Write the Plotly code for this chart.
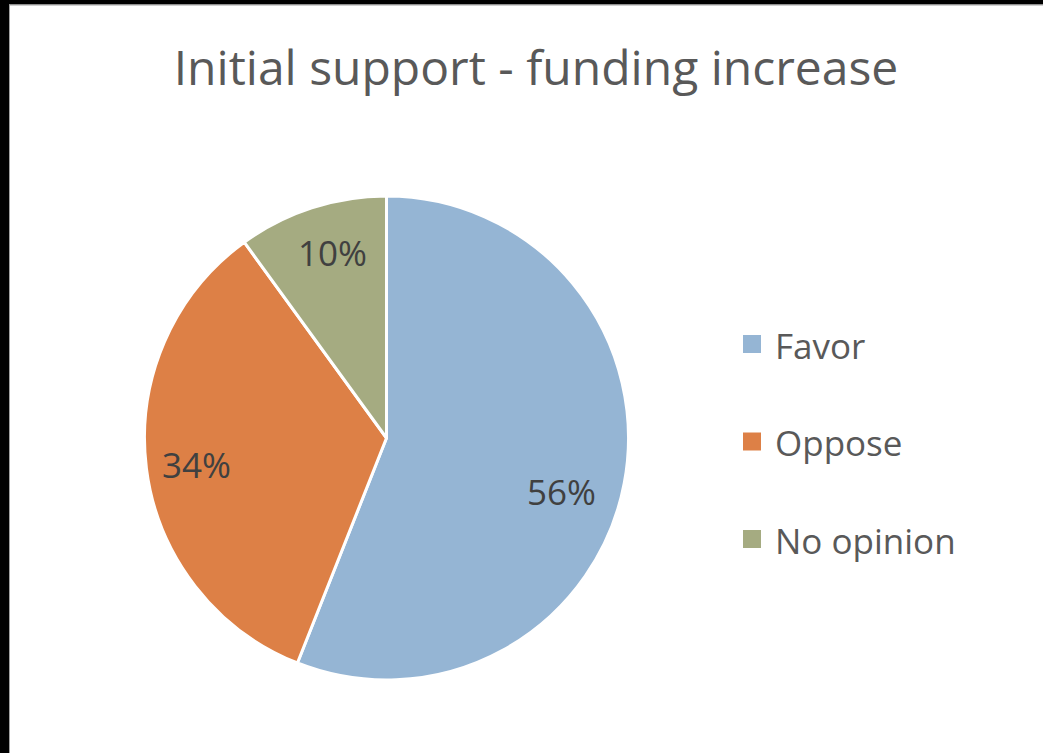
import math
import plotly.graph_objects as go

# Survey result
categories = ["Favor", "Oppose", "No opinion"]
shares = [56, 34, 10]
colors = ["#95B5D4", "#DD8046", "#A5AB81"]
title_text = "Initial support - funding increase"

W, H = 1043, 753
cx, cy, r = 386.5, 438.0, 242.0  # pie centre / radius in pixels (top-left origin)

fig = go.Figure()
fig.add_trace(go.Pie(
    labels=categories,
    values=shares,
    sort=False,
    direction="clockwise",
    rotation=0,
    marker=dict(colors=colors, line=dict(color="#FFFFFF", width=3)),
    textinfo="none",
    hoverinfo="label+percent",
    showlegend=False,
    domain=dict(x=[(cx - r) / W, (cx + r) / W],
                y=[(H - cy - r) / H, (H - cy + r) / H]),
))

# Percentage labels placed along each slice's bisector
total = sum(shares)
cum = 0.0
label_offsets = [(-10, 18), (-3, 3), (4, -6)]
for val, (dx, dy) in zip(shares, label_offsets):
    mid = (cum + val / 2) / total * 2 * math.pi
    cum += val
    px = cx + 0.78 * r * math.sin(mid) + dx
    py = cy - 0.78 * r * math.cos(mid) + dy
    fig.add_annotation(
        x=px / W, y=1 - py / H, xref="paper", yref="paper",
        text=f"{val / total * 100:.0f}%", showarrow=False,
        font=dict(family="Open Sans, sans-serif", size=35, color="#404040"),
        xanchor="center", yanchor="middle",
    )

# Legend drawn as swatches + text
legend_x, legend_y0, legend_dy = 743, 344, 97.5
for i, (name, col) in enumerate(zip(categories, colors)):
    yy = legend_y0 + i * legend_dy
    fig.add_shape(type="rect", xref="paper", yref="paper",
                  x0=legend_x / W, x1=(legend_x + 18) / W,
                  y0=1 - (yy + 9) / H, y1=1 - (yy - 9) / H,
                  fillcolor=col, line=dict(width=0))
    fig.add_annotation(
        x=(legend_x + 30) / W, y=1 - (yy + 1) / H, xref="paper", yref="paper",
        text=name, showarrow=False, xanchor="left", yanchor="middle",
        font=dict(family="Open Sans, sans-serif", size=35, color="#595959"),
    )

# Frame edges
fig.add_shape(type="rect", xref="paper", yref="paper", x0=0, x1=9 / W, y0=0, y1=1,
              fillcolor="#000000", line=dict(width=0), layer="above")
fig.add_shape(type="rect", xref="paper", yref="paper", x0=0, x1=1, y0=1 - 4.5 / H, y1=1,
              fillcolor="#000000", line=dict(width=0), layer="above")
fig.add_shape(type="line", xref="paper", yref="paper", x0=9.5 / W, x1=9.5 / W, y0=0, y1=1 - 4.5 / H,
              line=dict(color="#A0A0A0", width=1))
fig.add_shape(type="line", xref="paper", yref="paper", x0=9.5 / W, x1=1, y0=1 - 5 / H, y1=1 - 5 / H,
              line=dict(color="#A0A0A0", width=1))

fig.update_layout(
    width=W, height=H,
    margin=dict(l=0, r=0, t=0, b=0),
    paper_bgcolor="#FFFFFF", plot_bgcolor="#FFFFFF",
    title=dict(text=title_text, x=536 / W, xanchor="center",
               y=1 - 68 / H, yanchor="middle",
               font=dict(family="Open Sans, sans-serif", size=48, color="#595959")),
)

fig.write_html("out.html")
